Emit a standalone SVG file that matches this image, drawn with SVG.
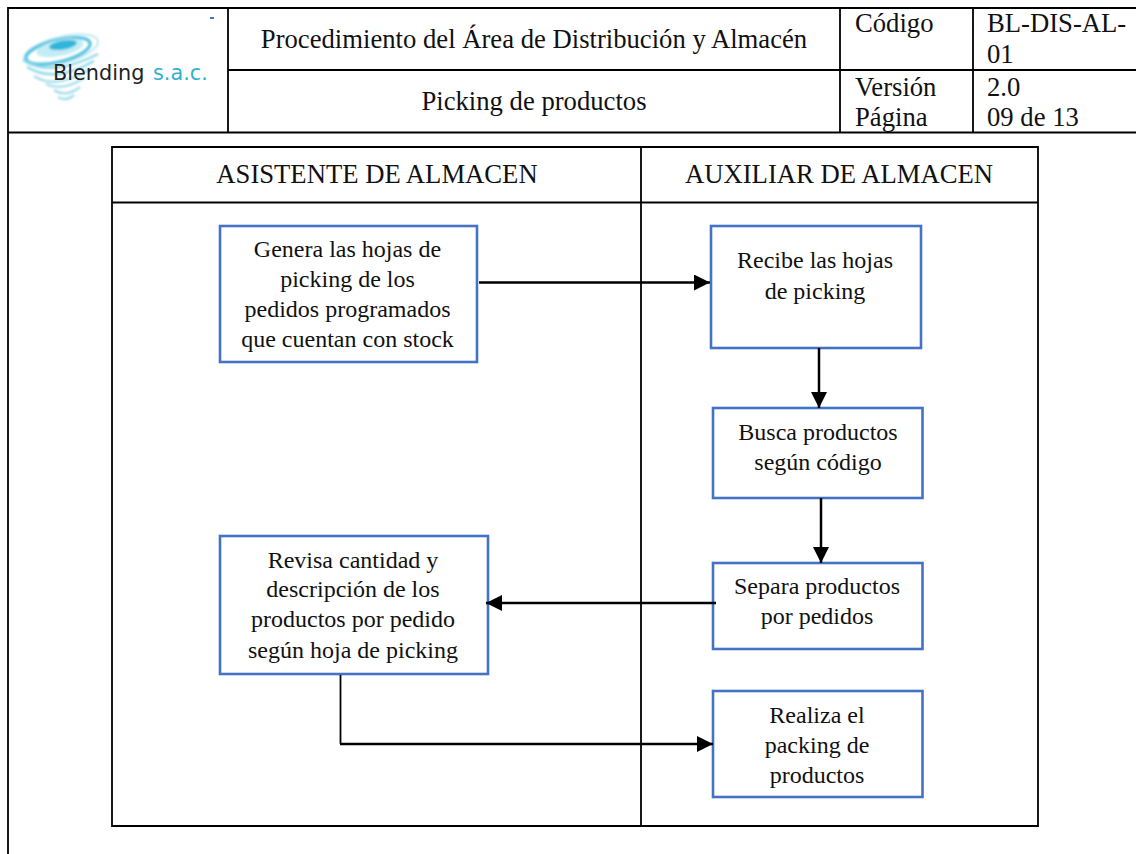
<svg xmlns="http://www.w3.org/2000/svg" width="1136" height="854" viewBox="0 0 1136 854">
<style>
text{font-family:"Liberation Serif","Times New Roman",serif;fill:#111}
.h{font-size:26.67px}
.n{font-size:24px}
.m{text-anchor:middle}
.l{stroke:#000;stroke-width:1.8;fill:none}
.b{fill:#fff;stroke:#4472c4;stroke-width:2.6}
.c{stroke:#000;stroke-width:2.5;fill:none}
.logo{font-family:"DejaVu Sans",sans-serif;font-size:20.8px}
</style>
<defs>
<marker id="a" markerUnits="userSpaceOnUse" markerWidth="16" markerHeight="16" refX="16" refY="8" orient="auto"><path d="M0 0L16 8L0 16Z" fill="#000"/></marker>
<filter id="s" x="-10%" y="-10%" width="120%" height="120%"><feGaussianBlur stdDeviation="0.8"/></filter>
</defs>
<rect width="1136" height="854" fill="#fff"/>
<g id="header">
<path class="l" d="M8 854V8H1136M8 132.500H1136M228 8V132.500M228 70H1136M840 8V132.500M973 8V132.500"/>
<g id="logo">
<g fill="none" filter="url(#s)">
<ellipse cx="61" cy="50" rx="38" ry="13" transform="rotate(-14 61 50)" stroke-width="2" stroke="#bfe9f3"/>
<ellipse cx="58" cy="51" rx="33" ry="11" transform="rotate(-14 58 51)" stroke-width="3.500" stroke="#5cc6e0"/>
<ellipse cx="60" cy="48" rx="24" ry="8" transform="rotate(-12 60 48)" fill="#c4ecf5"/>
<ellipse cx="63" cy="45" rx="14" ry="4.500" transform="rotate(-10 63 45)" fill="#2fb7da"/>
<path d="M23 60Q50 78 98 54M27 67Q55 84 94 61" stroke-width="2.500" stroke="#8ed8ea"/>
<path d="M34 76Q55 90 88 70M46 84Q62 92 84 78M54 90Q66 98 80 87M58 97Q66 102 74 95" stroke-width="2.400" stroke="#a5dded"/>
</g>
<text class="logo" x="53" y="80" style="fill:#222">Blending</text>
<text class="logo" x="153" y="80" style="fill:#2fb0cf">s.a.c.</text>
<rect x="210" y="17" width="4" height="2" fill="#4472c4"/>
</g>
<text class="h m" x="534" y="48">Procedimiento del Área de Distribución y Almacén</text>
<text class="h m" x="534" y="110">Picking de productos</text>
<text class="h" x="855" y="32">Código</text>
<text class="h" x="987" y="32">BL-DIS-AL-</text>
<text class="h" x="987" y="63">01</text>
<text class="h" x="855" y="96">Versión</text>
<text class="h" x="987" y="96">2.0</text>
<text class="h" x="855" y="126">Página</text>
<text class="h" x="987" y="126">09 de 13</text>
</g>
<g id="table">
<path class="l" d="M112 147H1038V826H112ZM112 202.500H1038M641 147V826"/>
<text class="h m" x="377" y="183">ASISTENTE DE ALMACEN</text>
<text class="h m" x="839" y="183">AUXILIAR DE ALMACEN</text>
</g>
<g id="n1"><rect class="b" x="220" y="226" width="257" height="136"/>
<text class="n m" x="347.500" y="257">Genera las hojas de</text><text class="n m" x="347.500" y="287">picking de los</text><text class="n m" x="347.500" y="317">pedidos programados</text><text class="n m" x="347.500" y="347">que cuentan con stock</text></g>
<g id="n2"><rect class="b" x="711" y="226" width="210" height="122"/>
<text class="n m" x="815" y="268">Recibe las hojas</text><text class="n m" x="815" y="299">de picking</text></g>
<g id="n3"><rect class="b" x="713" y="408" width="209.500" height="90"/>
<text class="n m" x="818" y="440">Busca productos</text><text class="n m" x="818" y="470">según código</text></g>
<g id="n4"><rect class="b" x="713" y="563" width="209.500" height="86"/>
<text class="n m" x="817" y="594">Separa productos</text><text class="n m" x="817" y="624">por pedidos</text></g>
<g id="n5"><rect class="b" x="713" y="691" width="209.500" height="106"/>
<text class="n m" x="817" y="723">Realiza el</text><text class="n m" x="817" y="753">packing de</text><text class="n m" x="817" y="783">productos</text></g>
<g id="n6"><rect class="b" x="220" y="536" width="268" height="138"/>
<text class="n m" x="353" y="568">Revisa cantidad y</text><text class="n m" x="353" y="597">descripción de los</text><text class="n m" x="353" y="627">productos por pedido</text><text class="n m" x="353" y="658">según hoja de picking</text></g>
<g id="connectors">
<path class="c" d="M479 282.500H710" marker-end="url(#a)"/>
<path class="c" d="M819 348V408" marker-end="url(#a)"/>
<path class="c" d="M821 498V563" marker-end="url(#a)"/>
<path class="c" d="M716 603H486" marker-end="url(#a)"/>
<path class="l" d="M340.500 675V744"/>
<path class="c" d="M340 744H713" marker-end="url(#a)"/>
</g>
</svg>
